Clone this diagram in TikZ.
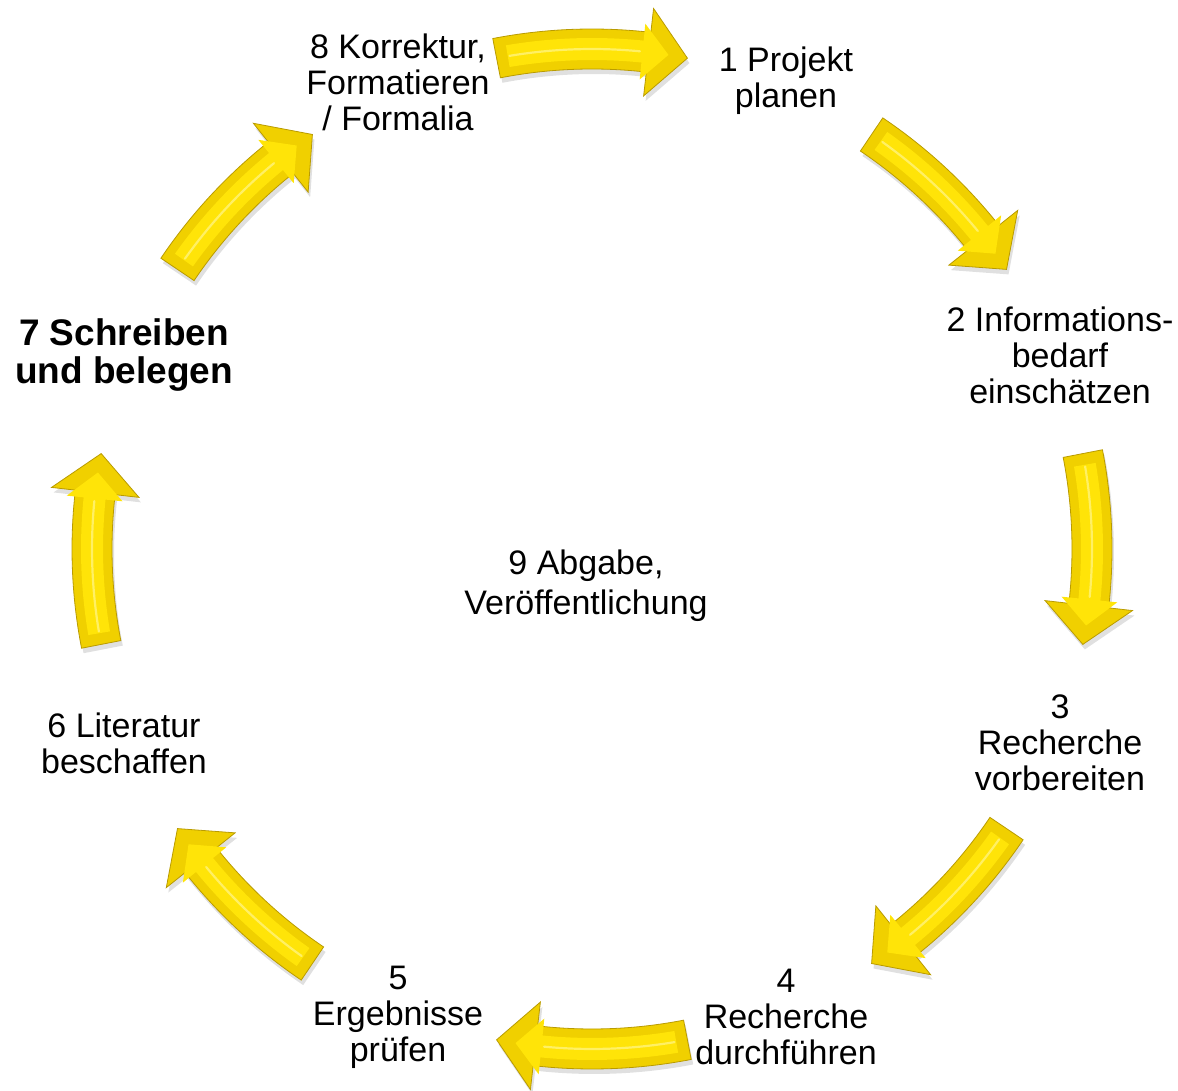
\documentclass[tikz,border=0pt]{standalone}
\usepackage{fontspec}
\setmainfont{Liberation Sans}
\definecolor{ygold}{RGB}{240,208,0}
\definecolor{yedge}{RGB}{185,155,0}
\definecolor{ymid}{RGB}{255,228,8}
\definecolor{ylight}{RGB}{255,240,100}
\tikzset{
  lbl/.style={align=center,inner sep=0pt,font=\fontsize{34}{36}\selectfont},
  lblb/.style={align=center,inner sep=0pt,font=\fontsize{37}{38}\selectfont\bfseries},
  arrshadow/.style={fill=black,fill opacity=0.12},
  arrouter/.style={fill=ygold,draw=yedge,line width=0.8pt,line join=miter},
  arrinner/.style={fill=ymid},
  arrridge/.style={draw=ylight,line width=2.2pt,line cap=round}
}
% #1 centre angle, #2 half body width, #3 half head width, #4 tail inset, #5 tip inset, #6 head base angle offset
\newcommand\setarr[6]{%
  \pgfmathsetmacro\ta{#1+11-#4}%
  \pgfmathsetmacro\tb{#1-11+#6}%
  \pgfmathsetmacro\te{#1-11+#5}%
  \pgfmathsetmacro\ro{500+#2}\pgfmathsetmacro\ri{500-#2}%
  \pgfmathsetmacro\ho{500+#3}\pgfmathsetmacro\hi{500-#3}%
}
\newcommand\arrp{(\ta:\ro) arc[start angle=\ta,end angle=\tb,radius=\ro] -- (\tb:\ho) -- (\te:500) -- (\tb:\hi) -- (\tb:\ri) arc[start angle=\tb,end angle=\ta,radius=\ri] -- cycle}
\begin{document}
\begin{tikzpicture}[x=1pt,y=1pt]
\useasboundingbox (0,0) rectangle (1178,1090);
\begin{scope}[shift={(592,541)}]
\foreach \a in {90,45,0,-45,-90,-135,180,135}{
  \setarr{\a}{20}{44}{0}{0}{4.5}
  \fill[arrshadow,shift={(2,-5)}] \arrp;
  \path[arrouter] \arrp;
  \setarr{\a}{11}{28}{1.3}{2.2}{5.2}
  \path[arrinner] \arrp;
  \pgfmathsetmacro\sa{\a+9.5}\pgfmathsetmacro\sb{\a-5.5}
  \draw[arrridge] (\sa:500) arc[start angle=\sa,end angle=\sb,radius=500];
}
\end{scope}
\node[lbl]  (n1) at (786,1009) {1 Projekt\\planen};
\node[lbl]  (n2) at (1060,735) {2 Informations-\\bedarf\\einschätzen};
\node[lbl]  (n3) at (1060,347) {3\\Recherche\\vorbereiten};
\node[lbl]  (n4) at (786,73) {4\\Recherche\\durchführen};
\node[lbl]  (n5) at (398,73) {5\\Ergebnisse\\prüfen};
\node[lbl]  (n6) at (124,347) {6 Literatur\\beschaffen};
\node[lblb] (n7) at (124,735) {7 Schreiben\\und belegen};
\node[lbl]  (n8) at (398,1008) {8 Korrektur,\\Formatieren\\/ Formalia};
\node[lbl,font=\fontsize{34}{40}\selectfont] (n9) at (586,504) {9 Abgabe,\\Veröffentlichung};
\end{tikzpicture}
\end{document}
